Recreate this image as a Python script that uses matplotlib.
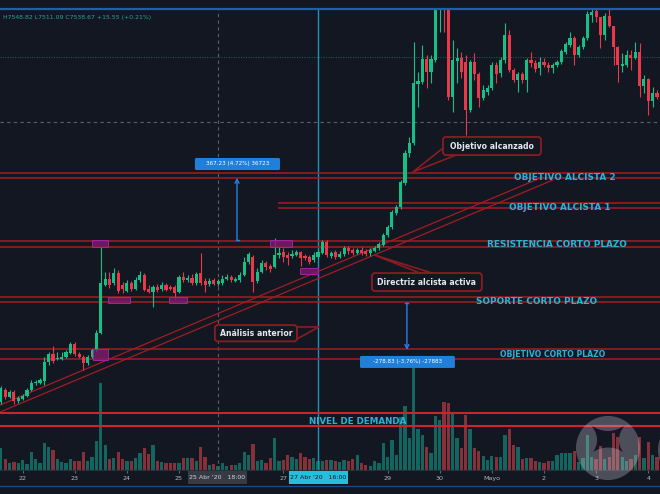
import numpy as np
import matplotlib
matplotlib.use('Agg')
import matplotlib.pyplot as plt
from matplotlib.patches import FancyBboxPatch, Polygon, Rectangle, PathPatch
from matplotlib.path import Path
from matplotlib.lines import Line2D

plt.rcParams['font.family'] = ['DejaVu Sans']

# ---------------- data: BTC 2h candles, hours since 22 Abr 2020 00:00 ----------------
hours = list(range(-10, 294, 2))

opens = [6824, 6895, 6854, 6883, 6830, 6842, 6860, 6895, 6936, 6936,
         6948, 7060, 7107, 7078, 7078, 7090, 7113, 7166, 7107, 7090,
         7054, 7090, 7131, 7231, 7515, 7550, 7527, 7585, 7515, 7479,
         7527, 7491, 7544, 7574, 7491, 7473, 7503, 7491, 7515, 7503,
         7503, 7473, 7562, 7544, 7556, 7527, 7585, 7538, 7521, 7544,
         7523, 7527, 7550, 7562, 7538, 7544, 7574, 7650, 7680, 7538,
         7591, 7645, 7627, 7621, 7692, 7709, 7692, 7686, 7692, 7709,
         7686, 7680, 7662, 7680, 7703, 7768, 7686, 7709, 7680, 7697,
         7733, 7721, 7703, 7721, 7715, 7703, 7715, 7733, 7751, 7810,
         7857, 7939, 7975, 8116, 8293, 8352, 8700, 8712, 8848, 8771,
         8842, 9255, 9432, 9226, 8624, 8836, 8854, 8830, 8547, 8830,
         8759, 8618, 8653, 8677, 8813, 8765, 8842, 8990, 8783, 8724,
         8759, 8724, 8842, 8824, 8795, 8830, 8813, 8795, 8813, 8830,
         8889, 8930, 8972, 8872, 8919, 8972, 9108, 9131, 9096, 8990,
         9102, 9043, 8919, 8807, 8813, 8872, 8854, 8889, 8689, 8730,
         8600, 8647]

highs = [6919, 6907, 6895, 6895, 6860, 6871, 6907, 6954, 6954, 6966,
         7090, 7119, 7155, 7119, 7119, 7131, 7178, 7178, 7119, 7102,
         7102, 7137, 7249, 7739, 7591, 7591, 7615, 7603, 7532, 7544,
         7538, 7562, 7597, 7585, 7515, 7515, 7521, 7532, 7527, 7515,
         7515, 7574, 7591, 7574, 7579, 7591, 7703, 7556, 7556, 7556,
         7549, 7574, 7579, 7574, 7562, 7591, 7680, 7709, 7692, 7615,
         7662, 7657, 7638, 7792, 7739, 7733, 7709, 7721, 7721, 7715,
         7697, 7692, 7709, 7727, 7780, 7780, 7715, 7721, 7715, 7745,
         7745, 7733, 7733, 7739, 7727, 7733, 7745, 7768, 7821, 7869,
         7957, 7986, 8134, 8311, 8388, 8948, 8771, 8930, 8872, 8872,
         9373, 9550, 9550, 9255, 8960, 8913, 8889, 8872, 8842, 8883,
         8771, 8694, 8694, 8830, 8830, 8860, 9060, 9019, 8795, 8771,
         8771, 8854, 8889, 8842, 8860, 8854, 8830, 8824, 8842, 8907,
         8948, 9007, 8984, 8930, 8984, 9131, 9143, 9143, 9096, 9119,
         9143, 9043, 8925, 8883, 8901, 8901, 8948, 8942, 8754, 8736,
         8683, 8665]

lows = [6812, 6842, 6848, 6812, 6818, 6836, 6854, 6889, 6924, 6930,
        6924, 7042, 7054, 7072, 7072, 7084, 7107, 7096, 7084, 7013,
        7042, 7084, 7119, 7225, 7509, 7497, 7515, 7467, 7467, 7473,
        7479, 7485, 7532, 7479, 7467, 7385, 7473, 7479, 7479, 7485,
        7432, 7467, 7532, 7532, 7515, 7515, 7515, 7473, 7509, 7515,
        7511, 7515, 7544, 7532, 7532, 7532, 7568, 7638, 7473, 7527,
        7585, 7603, 7591, 7615, 7674, 7650, 7632, 7674, 7686, 7627,
        7662, 7638, 7650, 7674, 7697, 7680, 7674, 7668, 7674, 7686,
        7697, 7692, 7697, 7692, 7686, 7686, 7709, 7721, 7745, 7798,
        7845, 7928, 7963, 8105, 8270, 8341, 8565, 8700, 8677, 8706,
        8830, 9007, 9007, 8606, 8535, 8706, 8736, 8400, 8535, 8724,
        8565, 8606, 8636, 8665, 8706, 8742, 8824, 8771, 8712, 8653,
        8706, 8653, 8801, 8771, 8754, 8801, 8771, 8765, 8801, 8818,
        8877, 8919, 8813, 8860, 8907, 8960, 9066, 9066, 8913, 8960,
        9037, 8813, 8712, 8771, 8801, 8783, 8848, 8624, 8647, 8518,
        8565, 8612]

closes = [6907, 6854, 6883, 6830, 6848, 6860, 6895, 6936, 6942, 6954,
          7060, 7107, 7066, 7084, 7090, 7119, 7166, 7107, 7090, 7054,
          7090, 7131, 7231, 7527, 7550, 7515, 7585, 7479, 7491, 7527,
          7491, 7544, 7574, 7485, 7473, 7503, 7485, 7515, 7485, 7491,
          7467, 7562, 7544, 7556, 7527, 7579, 7527, 7515, 7538, 7523,
          7539, 7550, 7562, 7544, 7550, 7574, 7650, 7697, 7532, 7591,
          7645, 7621, 7609, 7692, 7703, 7680, 7674, 7697, 7709, 7674,
          7674, 7650, 7692, 7709, 7768, 7692, 7703, 7680, 7697, 7733,
          7715, 7703, 7721, 7703, 7697, 7721, 7733, 7756, 7810, 7857,
          7945, 7975, 8122, 8293, 8352, 8706, 8718, 8848, 8771, 8848,
          9255, 9432, 9226, 8624, 8842, 8854, 8771, 8547, 8830, 8759,
          8618, 8665, 8677, 8813, 8759, 8842, 8990, 8783, 8724, 8759,
          8724, 8842, 8824, 8789, 8830, 8813, 8795, 8813, 8830, 8895,
          8936, 8972, 8872, 8919, 8972, 9113, 9125, 9096, 8990, 9102,
          9043, 8919, 8813, 8818, 8872, 8854, 8889, 8689, 8730, 8600,
          8647, 8624]

volume = [22, 11, 7, 8, 7, 10, 6, 18, 11, 7,
          27, 23, 20, 11, 8, 7, 11, 9, 9, 18,
          9, 13, 29, 87, 25, 11, 12, 18, 11, 9,
          9, 12, 17, 22, 16, 25, 9, 8, 7, 7,
          7, 7, 12, 12, 12, 9, 23, 13, 5, 6,
          4, 7, 4, 5, 5, 7, 18, 15, 26, 9,
          10, 7, 12, 32, 9, 10, 15, 13, 11, 17,
          13, 11, 12, 9, 9, 10,
          10, 9, 8, 10, 9, 11, 15, 7, 5, 4,
          9, 7, 27, 13, 30, 15, 53, 64, 32, 102,
          41, 35, 23, 17, 54, 50, 68, 67, 58, 32,
          22, 55, 41, 22, 19, 14, 10, 14, 13, 13,
          35, 41, 25, 23, 11, 12, 12, 9, 8, 7,
          9, 9, 15, 17, 17, 17, 19, 8, 12, 35,
          13, 11, 24, 11, 13, 37, 33, 13, 9, 11,
          15, 33, 12, 28, 15, 13]

tick_hours = [0, 24, 48, 72, 120, 168, 192, 216, 240, 264, 288]
tick_labels = ['22', '23', '24', '25', '27', '29', '30', 'Mayo', '2', '3', '4']

# horizontal levels (pairs of lines)
level_obj2 = [8175, 8146]
level_obj1 = [7998, 7969]
level_res = [7774, 7739]
level_sop = [7444, 7414]
level_ocp = [7137, 7078]
level_dem = [6759, 6683]

# ---------------- style ----------------
BG = '#131722'
GREEN = '#17bf86'
RED = '#e8394a'
VGREEN = '#12665f'
VRED = '#86303a'
LRED = '#a21d22'
DRED = '#c9262a'
CYAN = '#27b4d8'
PURPLE_FC = (0.50, 0.10, 0.42, 0.80)
PURPLE_EC = '#a0259a'
CALL_EC = '#8a1c22'
BLUE = '#2a7fe0'
BOXBLUE = '#1f7fd9'

W, H = 660.0, 494.0
fig = plt.figure(figsize=(6.6, 4.94), dpi=100, facecolor=BG)
rect = [0, (H - 470) / H, 1, (470 - 9) / H]
axv = fig.add_axes(rect)
ax = fig.add_axes(rect)
for a in (axv, ax):
    for s in a.spines.values():
        s.set_visible(False)
    a.set_xlim(-10.4, 293.4)
    a.set_yticks([])
axv.set_facecolor(BG)
axv.set_ylim(0, 461)
axv.set_xticks([])
ax.patch.set_alpha(0)
ax.set_ylim(6423, 9143)
ax.spines['bottom'].set_visible(True)
ax.spines['bottom'].set_color('#2a2e39')
ax.spines['bottom'].set_linewidth(0.8)
ax.set_xticks(tick_hours)
ax.set_xticklabels(tick_labels)
ax.tick_params(axis='x', length=2, width=0.6, color='#787b86', labelsize=4.6,
               labelcolor='#b2b5be', pad=2)

# px -> data scale helpers for annotation sizes
XPX = (293.4 + 10.4) / W
YPX = (9143 - 6423) / (470 - 9)

o = np.array(opens, float)
hi = np.array(highs, float)
lo = np.array(lows, float)
c = np.array(closes, float)
x = np.array(hours, float)
up = c >= o

# volume
axv.bar(x, volume, width=1.5, color=np.where(up, VGREEN, VRED), linewidth=0)

# crosshair / price lines
ax.axvline(90, color='#5d606b', lw=0.8, ls=(0, (3, 3)), zorder=1)
ax.axhline(8476, color='#5d606b', lw=0.8, ls=(0, (3, 3)), zorder=1)
ax.axhline(8860, color='#26a69a', lw=0.7, ls=(0, (1, 1.5)), alpha=0.55, zorder=1)
ax.axvline(136, color='#1f93b3', lw=1.0, zorder=1)

# horizontal levels
for p in level_obj2 + level_res + level_sop + level_ocp:
    ax.axhline(p, color=LRED, lw=1.1, zorder=2)
ax.hlines(level_obj1, 117.6, 293.4, color=LRED, lw=1.1, zorder=2)
for p in level_dem:
    ax.axhline(p, color=DRED, lw=1.5, zorder=2)

# trend channel
ax.plot([-10.4, 239.5], [6806, 8152], color=LRED, lw=0.9, zorder=2)
ax.plot([-10.4, 244.1], [6765, 8134], color=LRED, lw=0.9, zorder=2)

# candles
col = np.where(up, GREEN, RED)
ax.vlines(x, lo, hi, colors=col, lw=0.8, zorder=3)
body_b = np.minimum(o, c)
body_h = np.maximum(np.abs(c - o), 5)
ax.bar(x, body_h, bottom=body_b, width=1.45, color=col, linewidth=0, zorder=4)

# purple highlight boxes
for (h0, h1, p0, p1) in [(31.9, 39.3, 7739, 7780), (39.3, 49.4, 7408, 7444),
                         (67.4, 75.7, 7408, 7444), (113.9, 124.0, 7739, 7780),
                         (127.7, 136.0, 7579, 7615), (32.4, 39.3, 7072, 7137)]:
    ax.add_patch(Rectangle((h0, p0), h1 - h0, p1 - p0, fc=PURPLE_FC, ec=PURPLE_EC,
                           lw=0.7, zorder=5))

# cyan labels
def lab(hx, py, s, fs=6.4):
    ax.text(hx, py, s, color=CYAN, fontsize=fs, fontweight='bold', ha='center',
            va='center', zorder=6)

lab(249.7, 8149, 'OBJETIVO ALCISTA 2')
lab(247.4, 7969, 'OBJETIVO ALCISTA 1')
lab(246.0, 7753, 'RESISTENCIA CORTO PLAZO')
lab(236.8, 7420, 'SOPORTE CORTO PLAZO')
lab(244.2, 7102, 'OBJETIVO CORTO PLAZO', fs=5.6)
lab(154.2, 6712, 'NIVEL DE DEMANDA', fs=6.3)

# measure arrows
def measure(hx, p_from, p_to, box, text):
    ax.annotate('', xy=(hx, p_to), xytext=(hx, p_from),
                arrowprops=dict(arrowstyle='->', color=BLUE, lw=1.0, shrinkA=0,
                                shrinkB=0, mutation_scale=7), zorder=6)
    ax.plot([hx - 1.5 * XPX, hx + 1.5 * XPX], [p_from, p_from], color=BLUE, lw=1.0,
            zorder=6)
    h0, h1, p0, p1 = box
    ax.add_patch(FancyBboxPatch((h0, p0), h1 - h0, p1 - p0,
                                boxstyle='round,pad=0,rounding_size=%f' % (1.5 * XPX),
                                mutation_aspect=YPX / XPX, fc=BOXBLUE, ec='none',
                                zorder=7))
    ax.text((h0 + h1) / 2, (p0 + p1) / 2, text, color='white', fontsize=4.1,
            ha='center', va='center', zorder=8)

measure(98.7, 7780, 8147, (79.3, 118.5, 8193, 8264), '367.23 (4.72%) 36723')
measure(176.9, 7408, 7131, (155.3, 199.0, 7025, 7096), '-278.83 (-3.76%) -27883')

# callouts
def callout(box, tail, text):
    h0, h1, p0, p1 = box
    ax.add_patch(Polygon(tail, closed=True, fc=BG, ec=CALL_EC, lw=1.2, zorder=8))
    ax.add_patch(FancyBboxPatch((h0, p0), h1 - h0, p1 - p0,
                                boxstyle='round,pad=0,rounding_size=%f' % (3 * XPX),
                                mutation_aspect=YPX / XPX, fc=BG, ec=CALL_EC, lw=1.3,
                                zorder=9))
    ax.text((h0 + h1) / 2, (p0 + p1) / 2, text, color='#e6e8ee', fontsize=5.6,
            fontweight='bold', ha='center', va='center', zorder=10)

callout((193.5, 238.6, 8281, 8388), [(193.5, 8322), (179.6, 8181), (199.5, 8281)],
        'Objetivo alcanzado')
callout((160.8, 211.4, 7479, 7585), [(182.9, 7585), (161.8, 7692), (188.5, 7585)],
        'Directriz alcista activa')
callout((88.5, 126.3, 7182, 7278), [(126.3, 7267), (136.4, 7267), (126.3, 7196)],
        'Análisis anterior')

# header OHLC
fig.text(3 / W, 1 - 18 / H, 'H7548.82 L7511.09 C7538.67 +15.55 (+0.21%)',
         color='#26a69a', fontsize=4.4, va='center', ha='left')

# time-axis labels (crosshair / vertical line)
fig.add_artist(Rectangle((188 / W, 1 - 483.5 / H), 59 / W, 13 / H, fc='#363a45',
                         ec='none', transform=fig.transFigure))
fig.text(217.5 / W, 1 - 477 / H, "25 Abr '20   18:00", color='#d1d4dc', fontsize=4.5,
         ha='center', va='center')
fig.add_artist(Rectangle((289 / W, 1 - 483.5 / H), 59 / W, 13 / H, fc='#22c0dd',
                         ec='none', transform=fig.transFigure))
fig.text(318.5 / W, 1 - 477 / H, "27 Abr '20   16:00", color='#131722', fontsize=4.5,
         ha='center', va='center')

# frame lines
fig.add_artist(Line2D([0, 1], [1 - 8.8 / H] * 2, color='#1e5fb0', lw=1.6,
                      transform=fig.transFigure))
fig.add_artist(Line2D([0, 1], [1 - 485.5 / H] * 2, color='#1c4a86', lw=0.9,
                      transform=fig.transFigure))

# watermark logo: translucent disc with a concave four-point hole
def logo(cx, cy, r=32.0):
    t = np.linspace(0, 2 * np.pi, 90)
    circ = [(cx + r * np.cos(a), cy + r * np.sin(a)) for a in t]
    corners = [(-17, -14), (17, -14), (15, 13), (-15, 13)]
    ctrl = [(0, -2), (6, 0), (0, 4), (-6, 0)]
    hole = []
    s = np.linspace(0, 1, 16)
    for k in range(4):
        p0 = np.array(corners[k], float)
        p1 = np.array(corners[(k + 1) % 4], float)
        cc = np.array(ctrl[k], float)
        for u in s[:-1]:
            pt = (1 - u) ** 2 * p0 + 2 * u * (1 - u) * cc + u ** 2 * p1
            hole.append((cx + pt[0], cy - 9 + pt[1]))
    hole = hole[::-1]
    verts = circ + [circ[0]] + hole + [hole[0]]
    codes = ([Path.MOVETO] + [Path.LINETO] * (len(circ) - 1) + [Path.CLOSEPOLY] +
             [Path.MOVETO] + [Path.LINETO] * (len(hole) - 1) + [Path.CLOSEPOLY])
    verts = [(vx / W, 1 - vy / H) for vx, vy in verts]
    fig.add_artist(PathPatch(Path(verts, codes), fc=(0.82, 0.82, 0.85, 0.30),
                             ec='none', transform=fig.transFigure))

logo(608, 448)
logo(690, 450)

fig.savefig('out.png', dpi=100, facecolor=BG)
